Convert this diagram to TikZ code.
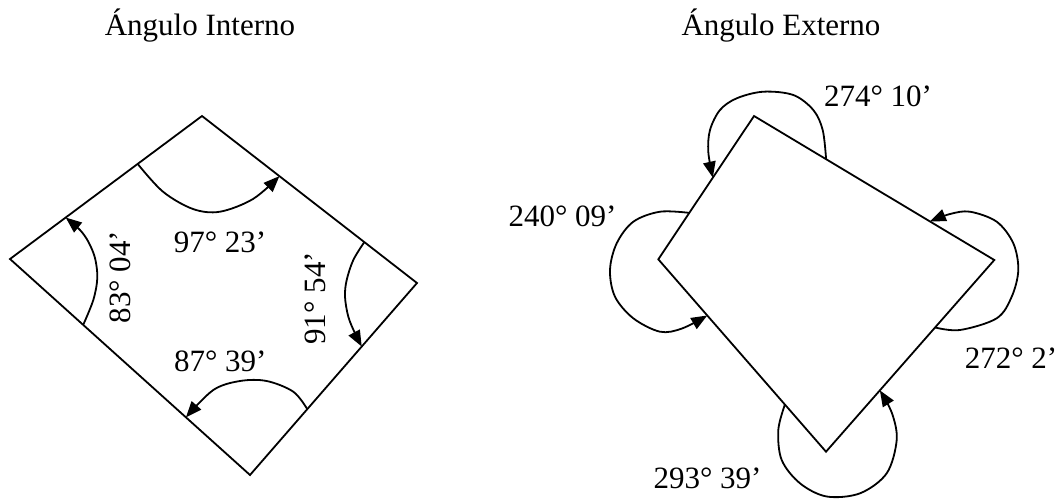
\documentclass[tikz,border=0pt]{standalone}
\usepackage{fontspec}
\setmainfont{Liberation Serif}
\usetikzlibrary{arrows.meta,calc}
\begin{document}
\begin{tikzpicture}[x=1pt,y=-1pt,
  edge/.style={line width=1.8pt, line join=miter},
  arcarrow/.style={line width=1.8pt, -{Triangle[length=16pt,width=12.5pt]}},
  lbl/.style={font=\fontsize{31}{36}\selectfont, inner sep=0pt, anchor=base}]
\useasboundingbox (0,0) rectangle (1060,499);
% ---------- Angulo Interno ----------
\coordinate (iT) at (202,116);
\coordinate (iR) at (417,283);
\coordinate (iB) at (250,475);
\coordinate (iL) at (10,259);
\draw[edge] (iT) -- (iR) -- (iB) -- (iL) -- cycle;
\node[lbl] (tI) at (200,35) {Ángulo Interno};
% 97 23
\coordinate (a1s) at ($(iT)!0.335!(iL)$);
\coordinate (a1e) at ($(iT)!0.36!(iR)$);
\draw[arcarrow] plot[smooth, tension=0.55] coordinates {(a1s) (163,191.7) (193,209) (220,211.7) (253,199) (a1e)};
\node[lbl] (l1) at (220,252.7) {97° 23’};
% 83 04
\coordinate (a2s) at ($(iL)!0.305!(iB)$);
\coordinate (a2e) at ($(iL)!0.29!(iT)$);
\draw[arcarrow] plot[smooth, tension=0.55] coordinates {(a2s) (93.3,300) (97.3,278) (95,258) (88.3,241.7) (80,230) (a2e)};
\node[lbl, rotate=90] (l2) at (130.5,277) {83° 04’};
% 91 54
\coordinate (a3s) at ($(iT)!0.755!(iR)$);
\coordinate (a3e) at ($(iR)!0.331!(iB)$);
\draw[arcarrow] plot[smooth, tension=0.55] coordinates {(a3s) (353.3,260) (346.7,280) (345,296.7) (348.3,316.7) (355,333.3) (a3e)};
\node[lbl, rotate=90] (l3) at (325,298.3) {91° 54’};
% 87 39
\coordinate (a4s) at ($(iR)!0.657!(iB)$);
\coordinate (a4e) at ($(iL)!0.733!(iB)$);
\draw[arcarrow] plot[smooth, tension=0.55] coordinates {(a4s) (293.3,391.7) (266.7,381) (240,381) (213.3,390) (a4e)};
\node[lbl] (l4) at (220.3,371.7) {87° 39’};
% ---------- Angulo Externo ----------
\coordinate (eT) at (754,116);
\coordinate (eR) at (994.3,260);
\coordinate (eB) at (826,451.7);
\coordinate (eL) at (658.3,259.3);
\draw[edge] (eT) -- (eR) -- (eB) -- (eL) -- cycle;
\node[lbl] (tE) at (781,35) {Ángulo Externo};
% 274 10
\coordinate (b1s) at ($(eT)!0.3!(eR)$);
\coordinate (b1e) at ($(eT)!0.43!(eL)$);
\draw[arcarrow] plot[smooth, tension=0.55] coordinates {(b1s) (822.7,130) (813.3,110) (793.3,95) (763.3,91.7) (736.7,98.3) (720,110) (710,130) (708.3,152) (b1e)};
\node[lbl] (m1) at (878,106) {274° 10’};
% 240 09
\coordinate (b2s) at ($(eT)!0.676!(eL)$);
\coordinate (b2e) at ($(eL)!0.292!(eB)$);
\draw[arcarrow] plot[smooth, tension=0.55] coordinates {(b2s) (660,211.7) (633.3,221.7) (616.7,243.3) (610,270) (615,296.7) (633.3,318.3) (660,331.7) (682,328.5) (b2e)};
\node[lbl] (m2) at (562.5,226.7) {240° 09’};
% 272 2
\coordinate (b3s) at ($(eR)!0.352!(eB)$);
\coordinate (b3e) at ($(eT)!0.732!(eR)$);
\draw[arcarrow] plot[smooth, tension=0.55] coordinates {(b3s) (960,330) (996.7,318.3) (1011.7,296.7) (1018.3,270) (1013.3,243.3) (996.7,221.7) (970,211.7) (950,214) (b3e)};
\node[lbl] (m3) at (1011,368.3) {272° 2’};
% 293 39
\coordinate (b4s) at ($(eL)!0.755!(eB)$);
\coordinate (b4e) at ($(eR)!0.68!(eB)$);
\draw[arcarrow] plot[smooth, tension=0.55] coordinates {(b4s) (778.3,430) (781.7,460) (800,483.3) (826.7,496.5) (860,493.3) (886.7,473.3) (896.7,440) (892,413.3) (b4e)};
\node[lbl] (m4) at (707.5,488.3) {293° 39’};
\end{tikzpicture}
\end{document}
